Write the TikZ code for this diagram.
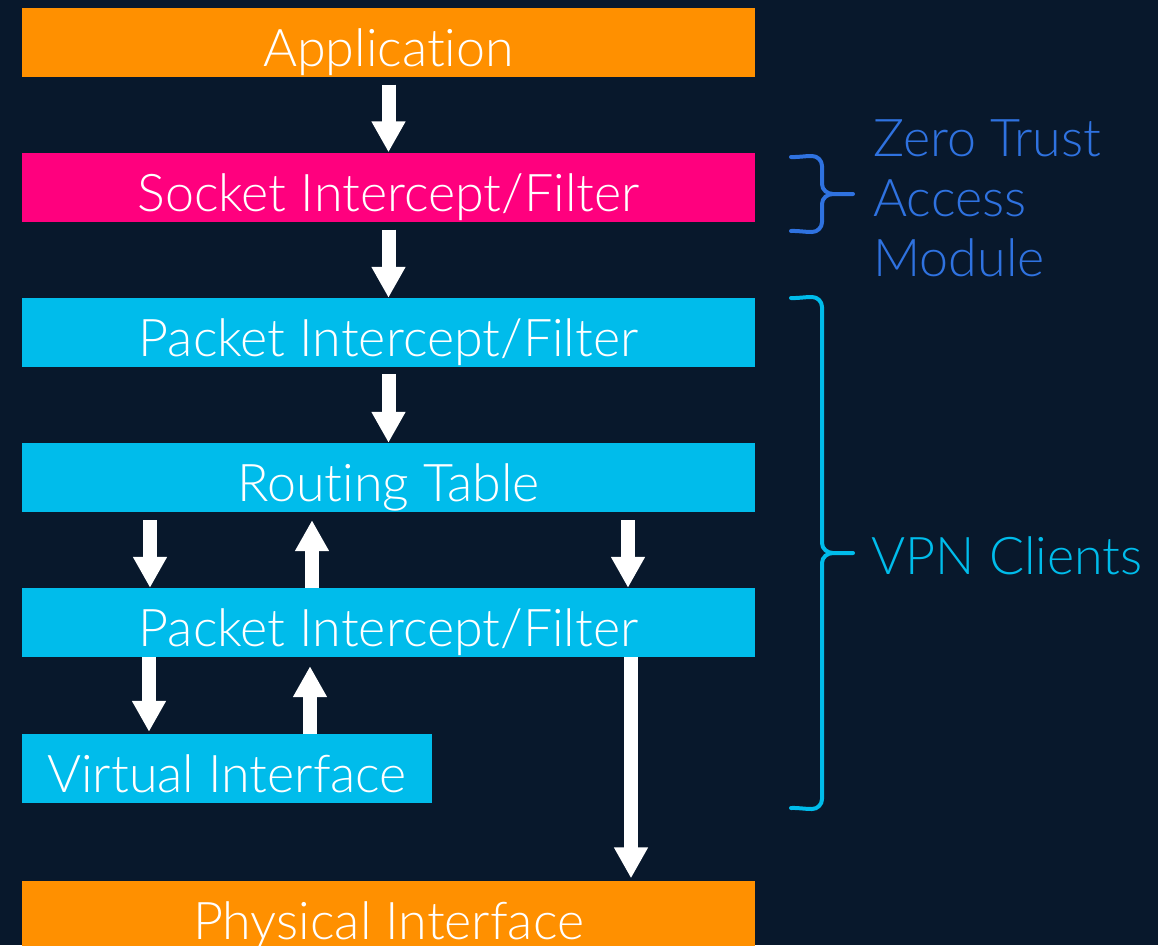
\documentclass[tikz,border=0pt]{standalone}
\usepackage{fontspec}
\IfFontExistsTF{Lato Light}
  {\setmainfont{Lato Light}[Ligatures={NoCommon,NoRare}]}
  {\setmainfont{Lato}[Ligatures={NoCommon,NoRare}]}
\usetikzlibrary{arrows.meta}
\definecolor{bgnavy}{HTML}{08182C}
\definecolor{layerorange}{HTML}{FF9000}
\definecolor{layerpink}{HTML}{FF007E}
\definecolor{layercyan}{HTML}{00BCEB}
\definecolor{ztblue}{HTML}{2F72E0}
\tikzset{
  layer/.style={draw=none, minimum height=69pt, inner sep=0pt, text=white,
    font=\fontsize{52}{56}\selectfont, text height=48pt, text depth=0pt},
  wide/.style={layer, minimum width=733pt},
  flow/.style={draw=white, line width=14pt,
    -{Triangle[width=32pt,length=31pt]}},
  brace/.style={line width=4pt, line cap=round, line join=round},
  side/.style={anchor=west, align=left, font=\fontsize{52}{60}\selectfont}
}
\begin{document}
\begin{tikzpicture}[x=1pt,y=-1pt]
  \fill[bgnavy] (0,0) rectangle (1158,945);
  \useasboundingbox (0,0) rectangle (1158,945);

  % protocol stack
  \node[wide, fill=layerorange] (app)  at (388.5,42)    {Application};
  \node[wide, fill=layerpink]   (sock) at (388.5,187)   {Socket Intercept/Filter};
  \node[wide, fill=layercyan]   (pk1)  at (388.5,332.5) {Packet Intercept/Filter};
  \node[wide, fill=layercyan]   (rt)   at (388.5,477.5) {Routing Table};
  \node[wide, fill=layercyan]   (pk2)  at (388.5,622.5) {Packet Intercept/Filter};
  \node[layer, fill=layercyan, minimum width=410pt] (vi) at (227,768.5) {Virtual Interface};
  \node[wide, fill=layerorange] (phys) at (388.5,915)   {Physical Interface};

  % data flow (yshift is in page direction: negative = downwards)
  \draw[flow] ([yshift=-8pt]app.south) -- (sock.north);
  \draw[flow] ([yshift=-8pt]sock.south) -- (pk1.north);
  \draw[flow] ([yshift=-7pt]pk1.south) -- (rt.north);
  \draw[flow] ([xshift=-238.5pt,yshift=-8pt]rt.south) -- ([xshift=-238.5pt]pk2.north);
  \draw[flow] ([xshift=-76.5pt]pk2.north) -- ([xshift=-76.5pt,yshift=-8pt]rt.south);
  \draw[flow] ([xshift=239.5pt,yshift=-8pt]rt.south) -- ([xshift=239.5pt]pk2.north);
  \draw[flow] ([xshift=-239.5pt]pk2.south) -- ([xshift=-78pt,yshift=2pt]vi.north);
  \draw[flow] ([xshift=83pt]vi.north) -- ([xshift=-78.5pt,yshift=-9pt]pk2.south);
  \draw[flow] ([xshift=242.5pt]pk2.south) -- ([yshift=2pt,xshift=242.5pt]phys.north);

  % grouping braces
  \coordinate (zt) at (853,194);
  \draw[brace, ztblue] (791,157) to[out=-2,in=180] (812,156) to[out=0,in=90] (822,166)
    -- (822,184) to[out=-90,in=180] ([xshift=-20pt]zt) -- (zt);
  \draw[brace, ztblue] (791,231) to[out=2,in=180] (812,232) to[out=0,in=-90] (822,222)
    -- (822,204) to[out=90,in=180] ([xshift=-20pt]zt);
  \node[side, text=ztblue] (ztlabel) at (870,198) {Zero Trust\\Access\\Module};

  \coordinate (vpn) at (853,553);
  \draw[brace, layercyan] (791,298) to[out=-2,in=180] (812,297) to[out=0,in=90] (822,307)
    -- (822,543) to[out=-90,in=180] ([xshift=-20pt]vpn) -- (vpn);
  \draw[brace, layercyan] (791,808) to[out=2,in=180] (812,809) to[out=0,in=-90] (822,799)
    -- (822,563) to[out=90,in=180] ([xshift=-20pt]vpn);
  \node[side, text=layercyan] (vpnlabel) at (868,556) {VPN Clients};
\end{tikzpicture}
\end{document}
